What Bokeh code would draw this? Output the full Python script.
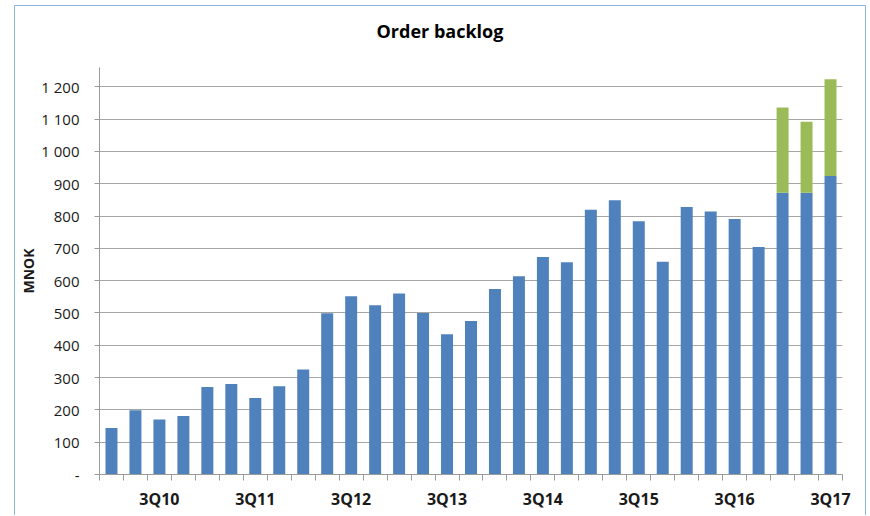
from bokeh.plotting import figure
from bokeh.models import ColumnDataSource, FixedTicker, Range1d, Title
from bokeh.embed import file_html
from bokeh.resources import INLINE

quarters = ["1Q10", "2Q10", "3Q10", "4Q10",
            "1Q11", "2Q11", "3Q11", "4Q11",
            "1Q12", "2Q12", "3Q12", "4Q12",
            "1Q13", "2Q13", "3Q13", "4Q13",
            "1Q14", "2Q14", "3Q14", "4Q14",
            "1Q15", "2Q15", "3Q15", "4Q15",
            "1Q16", "2Q16", "3Q16", "4Q16",
            "1Q17", "2Q17", "3Q17"]
backlog_base = [144, 199, 170, 181,
                271, 280, 237, 273,
                325, 499, 552, 524,
                560, 500, 434, 475,
                574, 614, 673, 657,
                820, 849, 784, 659,
                828, 814, 791, 704,
                872, 872, 924]
backlog_extra = [0, 0, 0, 0,
                 0, 0, 0, 0,
                 0, 0, 0, 0,
                 0, 0, 0, 0,
                 0, 0, 0, 0,
                 0, 0, 0, 0,
                 0, 0, 0, 0,
                 264, 220, 300]
y_ticks = [0, 100, 200, 300, 400, 500, 600, 700, 800, 900, 1000, 1100, 1200]
y_tick_labels = ["-", "100", "200", "300", "400", "500", "600", "700", "800",
                 "900", "1 000", "1 100", "1 200"]
labelled_prefix = "3Q"
chart_title = "Order backlog"

FONT = "Open Sans"
BLUE = "#4F81BD"
GREEN = "#9BBB59"
GRID = "#A6A6A6"
AXIS = "#9A9A9A"
BORDER = "#8EB4E3"
TEXT = "#1a1a1a"

xs = list(range(len(quarters)))
src = ColumnDataSource(dict(x=xs, quarter=quarters, base=backlog_base, extra=backlog_extra))

p = figure(width=852, height=510, title=None,
           x_range=Range1d(-0.5, len(quarters) - 0.5),
           y_range=Range1d(0, 1260),
           output_backend="svg", toolbar_location=None,
           min_border_left=84, min_border_right=25,
           min_border_top=61, min_border_bottom=42,
           margin=(5, 0, 0, 14),
           styles={"border-top": f"1px solid {BORDER}",
                   "border-left": f"1px solid {BORDER}",
                   "border-right": f"1px solid {BORDER}"})

p.vbar_stack(["base", "extra"], x="x", width=0.5, source=src,
             fill_color=[BLUE, GREEN], line_color=None)

p.outline_line_color = None
p.background_fill_color = "white"
p.border_fill_color = "white"

# Title: a blank spacer title next to the frame, then the real title above it
spacer = Title(text=" ", text_font_size="1px", standoff=22)
p.add_layout(spacer, "above")
main_title = Title(text=chart_title, text_font=FONT, text_font_size="18px",
                   text_font_style="bold", text_color="black",
                   align="left", offset=277, standoff=0)
p.add_layout(main_title, "above")

# X axis
label_pos = [i for i, q in enumerate(quarters) if q.startswith(labelled_prefix)]
p.xaxis.ticker = FixedTicker(ticks=label_pos,
                             minor_ticks=[i - 0.5 for i in range(len(quarters) + 1)])
p.xaxis.major_label_overrides = {i: quarters[i] for i in label_pos}
p.xaxis.major_tick_out = 0
p.xaxis.major_tick_in = 0
p.xaxis.minor_tick_out = 6
p.xaxis.minor_tick_in = 0
p.xaxis.minor_tick_line_color = AXIS
p.xaxis.axis_line_color = AXIS
p.xaxis.major_label_text_font = FONT
p.xaxis.major_label_text_font_size = "16px"
p.xaxis.major_label_text_font_style = "bold"
p.xaxis.major_label_text_color = TEXT
p.xaxis.major_label_standoff = 7
p.xgrid.visible = False

# Y axis
p.yaxis.ticker = FixedTicker(ticks=y_ticks, minor_ticks=[])
p.yaxis.major_label_overrides = dict(zip(y_ticks, y_tick_labels))
p.yaxis.major_tick_out = 5
p.yaxis.major_tick_in = 0
p.yaxis.minor_tick_out = 0
p.yaxis.minor_tick_in = 0
p.yaxis.major_tick_line_color = AXIS
p.yaxis.axis_line_color = AXIS
p.yaxis.major_label_text_font = FONT
p.yaxis.major_label_text_font_size = "15px"
p.yaxis.major_label_text_color = TEXT
p.yaxis.major_label_standoff = 15
p.yaxis.axis_label = "MNOK"
p.yaxis.axis_label_text_font = FONT
p.yaxis.axis_label_text_font_size = "14px"
p.yaxis.axis_label_text_font_style = "bold"
p.yaxis.axis_label_text_color = TEXT
p.yaxis.axis_label_standoff = 0
p.ygrid.ticker = FixedTicker(ticks=y_ticks, minor_ticks=[])
p.ygrid.grid_line_color = GRID
p.ygrid.grid_line_width = 1

open("out.html", "w").write(file_html(p, INLINE))
